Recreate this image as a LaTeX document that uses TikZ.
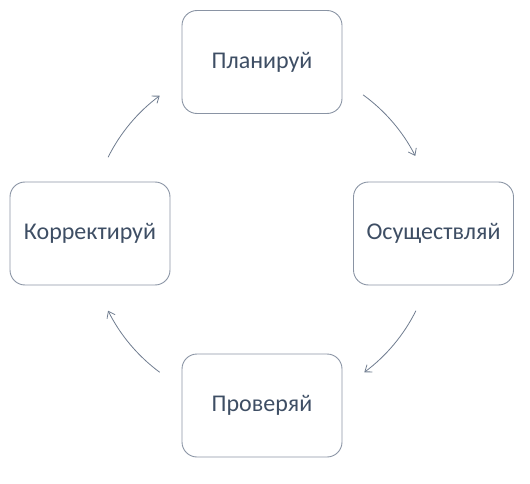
\documentclass[tikz,border=0pt]{standalone}
\usepackage{fontspec}
\setmainfont{Carlito}
\usetikzlibrary{calc, positioning}
\usetikzlibrary{arrows.meta}
\definecolor{boxline}{HTML}{8A94A4}
\definecolor{arrowline}{HTML}{6F7C8F}
\definecolor{labeltext}{HTML}{3E4E64}
\tikzset{
  stage/.style={draw=boxline,line width=0.9pt,rounded corners=15pt,
    minimum width=160pt,minimum height=103pt,inner sep=0pt,
    text=labeltext,font=\fontsize{24}{28}\selectfont},
  cyclearrow/.style={draw=arrowline,line width=0.8pt,
    -{Straight Barb[length=6pt,width=9pt]}}
}

\begin{document}
\begin{tikzpicture}[x=1pt,y=1pt]
\useasboundingbox (0,0) rectangle (530,483);
\coordinate (O) at (262,249);
\def\radius{172}

\node[stage] (plan) at (262,421) {Планируй};
\node[stage] (do) at (433.5,249.5) {Осуществляй};
\node[stage] (check) at (262,77.5) {Проверяй};
\node[stage] (act) at (90,249.5) {Корректируй};

\foreach \a in {54,-26.5,-126.5,153.5}{
  \draw[cyclearrow] ($(O)+(\a:\radius)$) arc[start angle=\a, end angle=\a-27, radius=\radius];
}
\end{tikzpicture}
\end{document}
